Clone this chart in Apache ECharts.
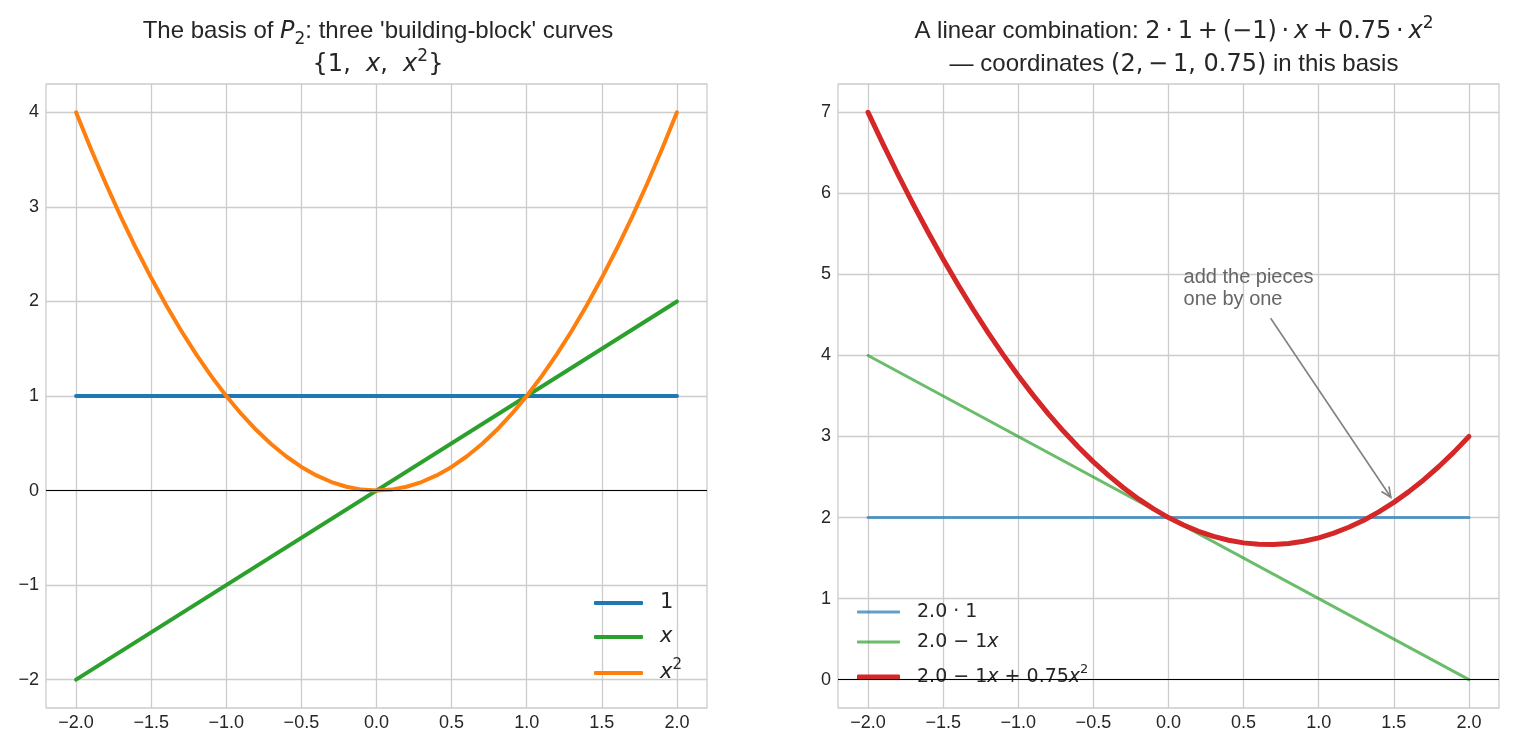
<!DOCTYPE html>
<html><head><meta charset="utf-8">
<script src="https://cdn.jsdelivr.net/npm/echarts@6/dist/echarts.min.js"></script>
<style>html,body{margin:0;padding:0;background:#fff}#c{width:1514px;height:749px}</style>
</head><body><div id="c"></div>
<script>
// ---------- data ----------
const xFine = [-2.0,-1.9,-1.8,-1.7,-1.6,-1.5,-1.4,-1.3,-1.2,-1.1,-1.0,-0.9,-0.8,-0.7,-0.6,-0.5,-0.4,-0.3,-0.2,-0.1,0.0,
  0.1,0.2,0.3,0.4,0.5,0.6,0.7,0.8,0.9,1.0,1.1,1.2,1.3,1.4,1.5,1.6,1.7,1.8,1.9,2.0];
const xEnds = [-2.0, 2.0];
// left panel: basis curves
const basisOne = [1, 1];
const basisX = [-2, 2];
const basisX2 = [4,3.61,3.24,2.89,2.56,2.25,1.96,1.69,1.44,1.21,1,0.81,0.64,0.49,0.36,0.25,0.16,0.09,0.04,0.01,0,
  0.01,0.04,0.09,0.16,0.25,0.36,0.49,0.64,0.81,1,1.21,1.44,1.69,1.96,2.25,2.56,2.89,3.24,3.61,4];
// right panel: partial sums
const partConst = [2, 2];
const partLinear = [4, 0];
const partFull = [7,6.6075,6.23,5.8675,5.52,5.1875,4.87,4.5675,4.28,4.0075,3.75,3.5075,3.28,3.0675,2.87,2.6875,2.52,2.3675,2.23,2.1075,2,
  1.9075,1.83,1.7675,1.72,1.6875,1.67,1.6675,1.68,1.7075,1.75,1.8075,1.88,1.9675,2.07,2.1875,2.32,2.4675,2.63,2.8075,3];
// ticks
const xTicks = [-2.0,-1.5,-1.0,-0.5,0.0,0.5,1.0,1.5,2.0];
const yTicksLeft = [-2,-1,0,1,2,3,4];
const yTicksRight = [0,1,2,3,4,5,6,7];
// annotation
const annText = ['add the pieces', 'one by one'];
const annTextAt = [0.1, 4.55];
const arrowFrom = [0.68, 4.46];
const arrowTo = [1.48, 2.25];

// ---------- helpers ----------
const pairs = (xs, ys) => xs.map((x, i) => [x, ys[i]]);
const minus = s => String(s).replace('-', '\u2212');
const GRID_C = '#cccccc', TXT = '#262626';
const SANS = 'Liberation Sans', MATH = 'DejaVu Sans';
const T = '\u2009'; // thin space used around math operators

function richDefs(fs, lh) {
  lh = lh || Math.round(fs*1.45);
  const base = {color: TXT, fontWeight: 'normal', lineHeight: lh, fontSize: fs};
  return {
    n: Object.assign({}, base, {fontFamily: SANS}),
    m: Object.assign({}, base, {fontFamily: MATH}),
    i: Object.assign({}, base, {fontFamily: MATH, fontStyle: 'italic'}),
    sup: Object.assign({}, base, {fontFamily: MATH, fontSize: Math.round(fs*0.7), verticalAlign: 'top', lineHeight: Math.round(fs*0.95)}),
    sub: Object.assign({}, base, {fontFamily: MATH, fontSize: Math.round(fs*0.7), verticalAlign: 'bottom', lineHeight: Math.round(fs*0.95)})
  };
}

const legendLabels = {
  'one': '{m|1}', 'x': '{i|x}', 'x2': '{i|x}{sup|2}',
  'c1': '{m|2.0 \u00b7 1}', 'c2': '{m|2.0 \u2212 1}{i|x}',
  'c3': '{m|2.0 \u2212 1}{i|x}{m| + 0.75}{i|x}{sup|2}'
};

function legendItem(name, left, centerY, fs, itemW, itemH) {
  const lh = Math.round(fs*1.45);
  return {
    data: [name], left: left, top: Math.round(centerY - lh/2), orient: 'vertical',
    icon: 'roundRect', itemWidth: itemW, itemHeight: itemH, padding: 0, itemGap: 0,
    selectedMode: false, itemStyle: {borderWidth: 0},
    formatter: n => legendLabels[n],
    textStyle: {fontFamily: MATH, fontSize: fs, color: TXT, lineHeight: lh, padding: [0,0,0,12], rich: richDefs(fs)}
  };
}

function xAxis(gi) {
  return {
    type: 'value', gridIndex: gi, min: -2.2, max: 2.2,
    axisLine: {show: false}, axisTick: {show: false, customValues: xTicks},
    splitLine: {show: true, lineStyle: {color: GRID_C, width: 1.3}},
    axisLabel: {customValues: xTicks, formatter: v => minus(v.toFixed(1)), fontFamily: SANS, fontSize: 18, color: TXT, margin: 6}
  };
}
function yAxis(gi, lo, hi, ticks) {
  return {
    type: 'value', gridIndex: gi, min: lo, max: hi,
    axisLine: {show: false}, axisTick: {show: false, customValues: ticks},
    splitLine: {show: true, lineStyle: {color: GRID_C, width: 1.3}},
    axisLabel: {customValues: ticks, formatter: v => minus(Math.round(v)), fontFamily: SANS, fontSize: 18, color: TXT, margin: 7}
  };
}
function line(name, gi, data, color, width, z) {
  return {
    type: 'line', name: name, xAxisIndex: gi, yAxisIndex: gi, data: data,
    showSymbol: false, symbol: 'none', smooth: false, z: z || 2,
    itemStyle: {color: color}, lineStyle: {color: color, width: width, cap: 'round', join: 'round'}
  };
}
const zeroLine = {type: 'line', data: [], markLine: {silent: true, symbol: 'none', label: {show: false},
  data: [{yAxis: 0}], lineStyle: {color: '#000', width: 1.2, type: 'solid'}, animation: false}};

const chart = echarts.init(document.getElementById('c'), null, {renderer: 'canvas'});
const option = {
  animation: false,
  backgroundColor: '#ffffff',
  title: [
    {left: 373, top: 10, textAlign: 'center', itemGap: 0,
     text: "{n|The basis of }{i|P}{sub|2}{n|: three 'building-block' curves}\n{m|{1,  }{i|x}{m|,  }{i|x}{sup|2}}",
     textStyle: {fontFamily: MATH, fontWeight: 'normal', fontSize: 24, lineHeight: 33, color: TXT, rich: richDefs(24, 33)}},
    {left: 1169, top: 10, textAlign: 'center', itemGap: 0,
     text: "{n|A linear combination: }{m|2" + T + "\u00b7" + T + "1" + T + "+" + T + "(\u22121)" + T + "\u00b7" + T + "}{i|x}{m|" + T + "+" + T + "0.75" + T + "\u00b7" + T + "}{i|x}{sup|2}\n{n|\u2014 coordinates }{m|(2," + T + "\u2212" + T + "1, 0.75)}{n| in this basis}",
     textStyle: {fontFamily: MATH, fontWeight: 'normal', fontSize: 24, lineHeight: 33, color: TXT, rich: richDefs(24, 33)}}
  ],
  grid: [
    {left: 46, top: 84, width: 661, height: 624, show: true, borderColor: GRID_C, borderWidth: 1.3, backgroundColor: 'transparent'},
    {left: 838, top: 84, width: 661, height: 624, show: true, borderColor: GRID_C, borderWidth: 1.3, backgroundColor: 'transparent'}
  ],
  xAxis: [xAxis(0), xAxis(1)],
  yAxis: [yAxis(0, -2.3, 4.3, yTicksLeft), yAxis(1, -0.35, 7.35, yTicksRight)],
  legend: [
    legendItem('one', 594, 603, 21, 49, 4),
    legendItem('x', 594, 637, 21, 49, 4),
    legendItem('x2', 594, 673, 21, 49, 4),
    legendItem('c1', 857, 612, 19, 43, 3),
    legendItem('c2', 857, 642, 19, 43, 3),
    legendItem('c3', 857, 677, 19, 43, 5)
  ],
  series: [
    Object.assign({}, zeroLine, {xAxisIndex: 0, yAxisIndex: 0, z: 5}),
    line('one', 0, pairs(xEnds, basisOne), '#1f77b4', 4),
    line('x', 0, pairs(xEnds, basisX), '#2ca02c', 4),
    line('x2', 0, pairs(xFine, basisX2), '#ff7f0e', 4),
    Object.assign({}, zeroLine, {xAxisIndex: 1, yAxisIndex: 1, z: 5}),
    line('c1', 1, pairs(xEnds, partConst), 'rgba(31,119,180,0.7)', 3),
    line('c2', 1, pairs(xEnds, partLinear), 'rgba(44,160,44,0.7)', 3),
    line('c3', 1, pairs(xFine, partFull), '#d62728', 5, 3)
  ]
};
chart.setOption(option);

// annotation (text + open arrow) placed through the right panel's scales
const pT = chart.convertToPixel({gridIndex: 1}, annTextAt);
const pA = chart.convertToPixel({gridIndex: 1}, arrowFrom);
const pB = chart.convertToPixel({gridIndex: 1}, arrowTo);
const ang = Math.atan2(pB[1] - pA[1], pB[0] - pA[0]);
const hl = 11, ha = 0.42;
const h1 = [pB[0] - hl*Math.cos(ang - ha), pB[1] - hl*Math.sin(ang - ha)];
const h2 = [pB[0] - hl*Math.cos(ang + ha), pB[1] - hl*Math.sin(ang + ha)];
chart.setOption({
  graphic: [
    {type: 'text', x: pT[0], y: pT[1], z: 10,
     style: {text: annText.join('\n'), fill: '#666666', font: '20px "Liberation Sans"', lineHeight: 22,
             align: 'left', verticalAlign: 'bottom'}},
    {type: 'line', z: 10, shape: {x1: pA[0], y1: pA[1], x2: pB[0], y2: pB[1]},
     style: {stroke: '#808080', lineWidth: 1.6}},
    {type: 'polyline', z: 10, shape: {points: [h1, pB, h2]},
     style: {stroke: '#808080', lineWidth: 1.6, fill: null}}
  ]
});
</script>
</body></html>
